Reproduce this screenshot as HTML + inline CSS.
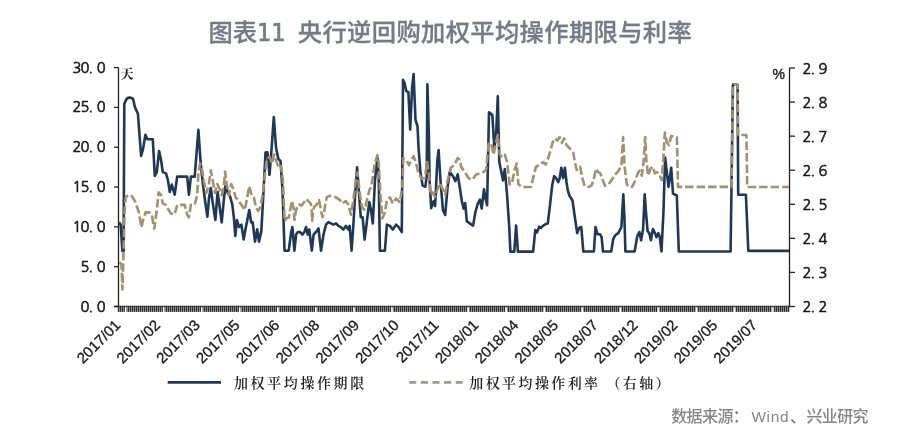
<!DOCTYPE html>
<html><head><meta charset="utf-8">
<style>
html,body{margin:0;padding:0;background:#fff;}
body{width:900px;height:442px;overflow:hidden;position:relative;}
svg{position:absolute;left:0;top:0;}
.ax{font-family:"NanumGothic",sans-serif;font-size:14.7px;fill:#1a1a1a;stroke:#1a1a1a;stroke-width:0.6px;}
.xl{font-family:"Liberation Sans",Arial,sans-serif;font-size:15px;fill:#1a1a1a;stroke:#1a1a1a;stroke-width:0.3px;}
.axl{stroke:#222;stroke-width:1.3;}
.cjk{font-family:"Liberation Serif","Noto Serif CJK SC",serif;fill:#1a1a1a;}
</style></head>
<body>
<svg width="900" height="442" viewBox="0 0 900 442">
<defs>
<pattern id="tk" x="0" y="0" width="2" height="6" patternUnits="userSpaceOnUse">
<rect x="0" y="0" width="2" height="6" fill="#8a8a8a"/>
<rect x="0" y="0" width="1" height="6" fill="#303030"/>
</pattern>
</defs>
<text y="40.5" style="font-family:'Noto Sans CJK SC',sans-serif;font-weight:500;font-size:24.3px;fill:#737b89;stroke:#737b89;stroke-width:0.3px;"><tspan x="208.5">图表</tspan><tspan x="257.3" style="font-family:'DejaVu Sans',sans-serif;font-weight:normal;stroke-width:0.7px;font-stretch:condensed;letter-spacing:0.3px;">11</tspan><tspan x="297.8" style="letter-spacing:0.35px;">央行逆回购加权平均操作期限与利率</tspan></text>
<line x1="118.5" y1="67.6" x2="118.5" y2="307.1" class="axl"/>
<line x1="789.5" y1="68" x2="789.5" y2="307.1" class="axl"/>
<line x1="114" y1="306.5" x2="789.5" y2="306.5" class="axl"/>
<rect x="117.6" y="306.5" width="671.9" height="5.4" fill="url(#tk)"/>
<rect x="124.9" y="307.3" width="1.6" height="5" fill="#fff"/>
<rect x="162.9" y="307.3" width="1.6" height="5" fill="#fff"/>
<rect x="201.0" y="307.3" width="1.6" height="5" fill="#fff"/>
<rect x="239.0" y="307.3" width="1.6" height="5" fill="#fff"/>
<rect x="277.1" y="307.3" width="1.6" height="5" fill="#fff"/>
<rect x="315.1" y="307.3" width="1.6" height="5" fill="#fff"/>
<rect x="353.2" y="307.3" width="1.6" height="5" fill="#fff"/>
<rect x="391.2" y="307.3" width="1.6" height="5" fill="#fff"/>
<rect x="429.3" y="307.3" width="1.6" height="5" fill="#fff"/>
<rect x="467.3" y="307.3" width="1.6" height="5" fill="#fff"/>
<rect x="505.4" y="307.3" width="1.6" height="5" fill="#fff"/>
<rect x="543.5" y="307.3" width="1.6" height="5" fill="#fff"/>
<rect x="581.5" y="307.3" width="1.6" height="5" fill="#fff"/>
<rect x="619.6" y="307.3" width="1.6" height="5" fill="#fff"/>
<rect x="657.6" y="307.3" width="1.6" height="5" fill="#fff"/>
<rect x="695.7" y="307.3" width="1.6" height="5" fill="#fff"/>
<rect x="733.7" y="307.3" width="1.6" height="5" fill="#fff"/>
<rect x="771.8" y="307.3" width="1.6" height="5" fill="#fff"/>
<text x="72.40 80.50 88.60 96.70" y="72.6" class="ax">30.0</text>
<line x1="114" y1="67.60" x2="118.5" y2="67.60" class="axl"/>
<text x="72.40 80.50 88.60 96.70" y="112.4" class="ax">25.0</text>
<line x1="114" y1="107.42" x2="118.5" y2="107.42" class="axl"/>
<text x="72.40 80.50 88.60 96.70" y="152.2" class="ax">20.0</text>
<line x1="114" y1="147.23" x2="118.5" y2="147.23" class="axl"/>
<text x="72.40 80.50 88.60 96.70" y="192.1" class="ax">15.0</text>
<line x1="114" y1="187.05" x2="118.5" y2="187.05" class="axl"/>
<text x="72.40 80.50 88.60 96.70" y="231.9" class="ax">10.0</text>
<line x1="114" y1="226.87" x2="118.5" y2="226.87" class="axl"/>
<text x="80.50 88.60 96.70" y="271.7" class="ax">5.0</text>
<line x1="114" y1="266.68" x2="118.5" y2="266.68" class="axl"/>
<text x="80.50 88.60 96.70" y="311.5" class="ax">0.0</text>
<line x1="114" y1="306.50" x2="118.5" y2="306.50" class="axl"/>
<text x="802.60 810.50 818.40" y="73.6" class="ax">2.9</text>
<line x1="789.5" y1="68.00" x2="795" y2="68.00" class="axl"/>
<text x="802.60 810.50 818.40" y="107.7" class="ax">2.8</text>
<line x1="789.5" y1="102.07" x2="795" y2="102.07" class="axl"/>
<text x="802.60 810.50 818.40" y="141.7" class="ax">2.7</text>
<line x1="789.5" y1="136.14" x2="795" y2="136.14" class="axl"/>
<text x="802.60 810.50 818.40" y="175.8" class="ax">2.6</text>
<line x1="789.5" y1="170.21" x2="795" y2="170.21" class="axl"/>
<text x="802.60 810.50 818.40" y="209.9" class="ax">2.5</text>
<line x1="789.5" y1="204.29" x2="795" y2="204.29" class="axl"/>
<text x="802.60 810.50 818.40" y="244.0" class="ax">2.4</text>
<line x1="789.5" y1="238.36" x2="795" y2="238.36" class="axl"/>
<text x="802.60 810.50 818.40" y="278.0" class="ax">2.3</text>
<line x1="789.5" y1="272.43" x2="795" y2="272.43" class="axl"/>
<text x="802.60 810.50 818.40" y="312.1" class="ax">2.2</text>
<line x1="789.5" y1="306.50" x2="795" y2="306.50" class="axl"/>
<text x="120.5" y="78.2" class="cjk" style="font-size:13px;font-weight:700;">天</text>
<text x="772.6" y="79" style="font-family:'Liberation Sans',sans-serif;font-size:14px;fill:#1a1a1a;stroke:#1a1a1a;stroke-width:0.4px;">%</text>
<polyline points="119.0,222.3 120.7,224.8 122.4,251.0 123.6,251.0 124.3,104.0 126.2,99.5 128.0,97.8 130.0,97.5 133.0,98.7 135.0,107.4 137.9,113.6 141.1,156.0 142.9,149.7 145.4,134.8 147.4,139.3 152.8,139.3 154.8,175.9 156.8,172.1 159.1,151.0 161.0,159.7 162.8,172.1 166.0,173.4 167.8,179.6 169.8,192.0 171.8,184.6 174.7,194.6 177.2,176.6 187.2,176.6 188.9,194.6 190.9,176.6 194.7,176.6 198.4,129.8 200.7,163.6 202.9,184.0 205.2,202.0 207.4,216.7 209.0,198.0 210.8,188.0 212.6,202.0 215.4,220.0 217.6,192.0 219.4,205.0 221.7,222.4 224.0,198.0 225.5,186.0 227.8,193.0 230.0,196.4 232.3,204.3 233.9,217.9 235.3,236.0 236.9,220.1 239.1,227.0 241.4,224.7 243.6,239.4 245.9,227.0 248.2,215.6 249.3,210.0 251.1,222.4 252.7,222.4 255.0,241.6 257.2,229.2 259.0,241.6 261.3,231.4 263.3,195.2 265.5,152.5 267.5,152.3 269.5,174.8 271.5,150.0 273.8,117.0 276.0,147.5 278.3,158.8 280.5,161.0 282.5,190.0 283.7,224.6 284.5,250.7 288.7,250.7 291.2,232.0 292.4,227.0 294.4,250.7 296.1,234.6 297.9,232.0 299.9,232.0 302.4,234.6 304.4,232.0 306.1,227.0 307.8,234.6 309.3,229.6 311.8,250.7 313.6,234.6 316.0,232.0 318.5,228.4 321.0,250.7 323.5,234.6 326.0,224.6 328.5,222.1 331.0,223.4 333.5,224.6 336.0,223.4 338.4,225.9 340.9,227.1 343.4,229.6 345.9,225.9 348.4,229.6 349.6,225.9 351.6,250.7 353.4,224.6 355.1,194.8 357.1,167.4 359.1,194.8 360.8,217.2 362.6,217.2 364.6,239.6 367.3,218.0 369.3,202.0 371.0,210.0 372.8,223.5 375.0,180.0 377.4,157.5 378.7,174.9 379.9,250.7 384.9,250.7 386.9,224.6 389.9,225.9 392.9,229.6 396.1,224.6 398.6,227.1 401.8,232.1 403.0,79.7 404.6,83.1 406.2,91.0 408.4,92.1 410.2,129.5 412.1,87.6 413.6,74.0 415.5,120.0 417.5,126.0 418.5,147.0 420.4,172.0 422.6,185.6 425.3,186.7 426.7,176.6 427.4,84.2 428.8,132.9 429.6,180.0 431.2,208.2 433.5,201.4 435.1,206.0 437.3,160.7 438.6,150.0 440.7,183.3 443.0,210.5 445.2,215.0 447.5,187.9 449.8,172.0 453.2,176.6 455.4,181.1 457.7,174.3 459.8,187.5 461.8,200.7 463.6,208.6 465.2,203.0 466.8,221.1 469.7,223.3 473.1,225.6 475.4,212.0 477.6,204.1 479.9,199.6 481.7,208.6 484.0,189.4 485.5,198.5 487.1,205.2 489.0,112.4 492.3,114.9 494.3,147.2 496.0,137.3 497.8,96.2 499.3,162.1 501.2,171.3 503.0,180.4 504.8,169.0 507.0,194.0 509.3,227.9 510.4,251.6 514.3,251.6 516.1,225.6 517.9,251.6 533.1,251.6 535.3,230.1 536.9,232.4 539.2,226.7 541.0,227.9 543.2,225.6 545.0,224.5 547.8,223.3 550.0,205.2 552.2,185.0 554.2,176.1 556.2,178.1 558.2,182.2 559.7,178.1 561.3,167.7 563.2,178.0 564.9,167.7 566.5,182.0 567.8,190.4 569.4,195.5 572.5,200.5 574.5,214.8 577.2,233.1 579.2,228.0 581.3,227.0 583.3,251.5 593.9,251.5 595.5,227.0 597.5,234.2 600.0,234.2 601.6,237.2 603.0,251.5 611.2,251.5 613.2,239.2 615.3,235.2 618.3,233.1 621.4,227.0 623.3,194.4 624.4,216.8 625.4,251.5 634.6,251.5 637.3,236.0 639.4,232.1 641.1,240.3 643.1,229.1 644.7,194.4 646.2,214.8 647.6,231.1 649.3,233.1 650.9,240.3 652.9,229.1 655.0,233.1 656.4,237.2 658.4,233.1 659.8,237.2 661.5,251.5 663.5,210.7 665.1,157.5 666.7,171.1 668.5,186.9 671.2,167.7 673.0,193.7 676.8,195.5 678.8,251.5 730.6,251.5 732.9,85.5 733.6,84.2 736.9,84.2 737.6,85.5 738.2,194.7 745.9,194.7 748.3,250.9 789.0,250.9" fill="none" stroke="#1e3858" stroke-width="2.6" stroke-linejoin="round"/>
<polyline points="119.5,262.0 121.5,264.6 122.4,289.5 123.2,264.6 124.4,214.9 125.7,197.5 128.2,195.0 131.9,196.2 135.6,202.4 138.9,212.4 141.4,227.3 143.1,219.9 145.6,212.4 149.3,212.4 151.8,214.9 154.3,228.6 156.8,209.9 158.6,192.4 161.0,194.9 162.8,203.6 166.0,204.9 168.5,209.8 171.0,213.6 174.7,214.3 177.2,204.9 184.7,204.9 187.2,214.8 188.9,217.3 190.9,204.9 194.7,204.9 197.2,194.9 198.4,172.6 200.0,163.6 201.8,168.1 204.0,181.7 206.3,193.0 208.6,186.2 210.8,170.4 212.6,179.4 214.9,193.0 217.2,184.0 219.4,188.5 221.7,195.2 224.0,184.0 225.1,171.5 226.7,184.0 228.9,195.2 231.2,184.0 233.5,189.6 235.7,197.5 238.0,199.8 240.2,203.2 242.5,206.6 244.8,210.0 247.0,198.6 249.3,186.2 251.6,195.2 253.8,197.5 256.1,207.7 258.3,211.0 260.6,206.6 262.9,193.0 265.1,172.6 266.9,159.0 269.7,156.8 271.9,163.6 274.2,154.5 276.4,161.3 278.7,168.1 281.0,165.8 282.8,179.4 284.0,205.0 284.6,220.8 287.0,218.0 289.0,217.2 290.0,210.8 291.8,200.9 293.6,208.0 294.5,220.0 295.9,210.8 296.8,208.0 299.0,204.5 301.7,205.4 304.5,201.8 306.3,199.0 309.0,201.8 310.8,203.6 311.7,210.0 312.2,220.8 313.0,211.7 314.4,206.3 316.2,205.4 319.0,200.0 319.9,204.5 321.2,211.7 322.6,217.2 324.4,210.8 325.3,203.6 326.8,197.2 329.5,195.9 332.2,196.0 336.0,197.3 339.7,199.8 342.2,203.5 345.9,201.0 348.4,204.7 350.9,214.7 353.4,199.8 355.8,179.9 357.6,172.4 359.6,192.3 362.0,207.2 364.6,209.7 367.0,199.8 369.5,189.8 371.2,187.3 374.5,165.0 377.4,155.0 378.7,162.4 380.4,194.8 382.4,218.4 384.9,212.2 386.9,199.8 389.9,197.3 392.9,203.5 396.1,198.5 399.8,202.2 402.3,187.3 403.4,158.0 406.8,160.7 409.0,165.2 410.9,160.7 413.6,156.2 415.8,162.0 418.1,172.0 421.5,178.8 424.9,178.0 427.1,162.0 429.0,174.3 430.5,194.7 432.8,192.4 435.1,196.9 437.3,190.1 439.6,183.3 443.0,190.0 445.2,194.7 447.5,181.1 450.9,167.5 454.3,165.2 457.7,158.0 460.0,160.0 461.2,167.1 465.0,172.1 468.7,178.3 472.4,179.6 476.1,174.6 479.9,173.3 483.6,172.1 486.1,169.6 488.6,143.5 491.1,143.5 493.6,154.7 496.0,142.2 497.8,134.8 499.8,154.7 502.3,157.2 504.8,154.7 507.2,162.1 509.7,184.5 512.2,182.0 514.7,169.6 516.7,163.4 518.4,184.5 522.2,187.0 530.9,187.0 533.4,177.1 535.8,167.1 539.6,164.6 543.3,162.1 545.8,164.6 548.4,157.5 550.7,149.6 552.9,141.7 555.2,138.3 557.4,140.5 559.7,137.1 562.0,142.8 564.2,138.3 566.5,145.1 569.9,148.5 573.3,153.0 574.9,162.0 576.7,170.0 580.1,166.6 582.3,177.9 584.6,185.8 588.0,186.9 591.4,185.8 593.6,180.1 595.9,168.8 598.2,172.2 600.4,173.3 602.7,180.1 605.0,185.8 608.3,184.7 611.7,180.1 615.1,174.5 618.5,171.1 621.5,164.3 623.1,137.1 624.6,166.6 626.9,184.7 629.2,186.9 632.1,186.9 635.5,180.1 637.8,173.3 639.8,170.5 641.8,175.6 643.6,162.0 645.2,137.1 646.3,159.8 648.1,175.6 650.4,168.8 652.6,166.6 654.9,173.3 657.2,172.2 659.4,174.5 661.7,180.1 663.3,159.8 664.9,132.6 666.7,141.7 668.9,145.1 671.2,136.0 676.9,137.1 678.0,186.9 731.6,186.9 732.9,85.5 733.6,84.2 736.9,84.2 737.6,85.5 738.0,135.0 746.4,135.0 747.2,187.0 789.0,187.0" fill="none" stroke="#a68f6c" stroke-width="2.6" stroke-dasharray="8.5 3" stroke-linejoin="round"/>
<text transform="translate(121.3,326.0) rotate(-45)" text-anchor="end" class="xl">2017/01</text>
<text transform="translate(161.1,326.0) rotate(-45)" text-anchor="end" class="xl">2017/02</text>
<text transform="translate(200.9,326.0) rotate(-45)" text-anchor="end" class="xl">2017/03</text>
<text transform="translate(240.7,326.0) rotate(-45)" text-anchor="end" class="xl">2017/05</text>
<text transform="translate(280.5,326.0) rotate(-45)" text-anchor="end" class="xl">2017/06</text>
<text transform="translate(320.3,326.0) rotate(-45)" text-anchor="end" class="xl">2017/08</text>
<text transform="translate(360.1,326.0) rotate(-45)" text-anchor="end" class="xl">2017/09</text>
<text transform="translate(399.9,326.0) rotate(-45)" text-anchor="end" class="xl">2017/10</text>
<text transform="translate(439.7,326.0) rotate(-45)" text-anchor="end" class="xl">2017/11</text>
<text transform="translate(479.5,326.0) rotate(-45)" text-anchor="end" class="xl">2018/01</text>
<text transform="translate(519.3,326.0) rotate(-45)" text-anchor="end" class="xl">2018/04</text>
<text transform="translate(559.1,326.0) rotate(-45)" text-anchor="end" class="xl">2018/05</text>
<text transform="translate(598.9,326.0) rotate(-45)" text-anchor="end" class="xl">2018/07</text>
<text transform="translate(638.7,326.0) rotate(-45)" text-anchor="end" class="xl">2018/12</text>
<text transform="translate(678.5,326.0) rotate(-45)" text-anchor="end" class="xl">2019/02</text>
<text transform="translate(718.3,326.0) rotate(-45)" text-anchor="end" class="xl">2019/05</text>
<text transform="translate(758.1,326.0) rotate(-45)" text-anchor="end" class="xl">2019/07</text>
<line x1="167.7" y1="382.3" x2="221" y2="382.3" stroke="#1e3858" stroke-width="2.8"/>
<text x="234" y="387.5" class="cjk" style="font-size:14px;letter-spacing:2.6px;font-weight:600;">加权平均操作期限</text>
<line x1="409.3" y1="382.4" x2="463" y2="382.4" stroke="#a0968a" stroke-width="2.6" stroke-dasharray="7 4.6"/>
<text x="469.3" y="387.5" class="cjk" style="font-size:14px;letter-spacing:2.4px;font-weight:600;">加权平均操作利率 （右轴）</text>
<text y="421.8" style="font-family:'Liberation Sans','Noto Sans CJK SC',sans-serif;font-size:16px;font-weight:500;fill:#858585;"><tspan x="671.2" style="letter-spacing:-0.6px">数据来源：</tspan><tspan x="751.4" style="font-size:15.4px;letter-spacing:0.7px">Wind</tspan><tspan x="790">、</tspan><tspan x="806.4" style="letter-spacing:-0.6px">兴业研究</tspan></text>
</svg>
</body></html>
